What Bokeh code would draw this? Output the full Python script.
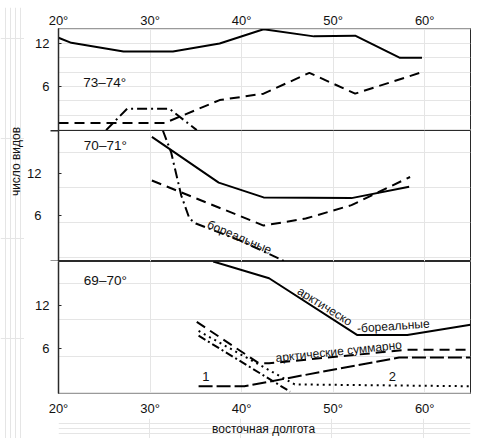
import math
from bokeh.plotting import figure
from bokeh.layouts import column, row
from bokeh.models import FixedTicker, Label, LinearAxis, Range1d
from bokeh.embed import file_html
from bokeh.resources import INLINE

# ---------------- data ----------------
lon_ticks = [20, 30, 40, 50, 60]
lon_labels = ["20°", "30°", "40°", "50°", "60°"]
count_ticks = [6, 12]

panel_names = ["73–74°", "70–71°", "69–70°"]

# panel 73–74°
top_ab_lon = [20.0, 21.4, 27.1, 32.5, 37.6, 42.4, 47.9, 52.4, 57.3, 59.7]
top_ab_val = [12.8, 12.1, 10.9, 10.9, 12.0, 14.0, 13.0, 13.1, 10.0, 10.0]
top_arc_lon = [20.0, 31.6, 37.6, 42.4, 47.4, 52.4, 59.7]
top_arc_val = [0.9, 0.9, 4.1, 5.0, 7.9, 5.0, 8.0]
top_bor_lon = [25.2, 27.5, 32.1, 35.1]
top_bor_val = [-0.1, 2.9, 2.9, -0.1]

# panel 70–71°
mid_ab_lon = [30.2, 37.5, 42.4, 52.0, 58.3]
mid_ab_val = [17.2, 10.7, 8.6, 8.5, 10.1]
mid_arc_lon = [30.2, 42.4, 47.0, 52.0, 58.4]
mid_arc_val = [11.0, 4.6, 5.6, 7.5, 11.5]
mid_bor_lon = [31.4, 32.3, 33.4, 34.3, 35.0, 39.8, 44.6]
mid_bor_val = [18.1, 15.0, 8.9, 5.6, 4.9, 2.5, -0.4]

# panel 69–70°
bot_ab_lon = [36.9, 43.0, 52.6, 58.1, 65.0]
bot_ab_val = [18.0, 15.7, 7.9, 7.9, 9.3]
bot_arc_lon = [35.1, 41.9, 43.0, 57.9, 65.0]
bot_arc_val = [9.7, 4.0, 4.0, 5.85, 5.85]
bot_arc1_lon = [35.3, 40.3, 57.2, 65.0]
bot_arc1_val = [0.85, 0.85, 4.8, 4.8]
bot_arc2_lon = [35.3, 45.8, 65.0]
bot_arc2_val = [8.45, 1.1, 0.85]
bot_bor_lon = [35.3, 45.3]
bot_bor_val = [7.8, 0.1]

# ---------------- styling ----------------
FONT = "Liberation Sans"
INK = "#111111"
FRAME = "#2a2a2a"
xr = Range1d(20, 65)
MAIN_W = 452


def blank(width, height, **kw):
    p = figure(width=width, height=height, x_range=Range1d(0, width),
               y_range=Range1d(0, height), output_backend="svg",
               toolbar_location=None, x_axis_location=None, y_axis_location=None, **kw)
    p.min_border = 0
    p.outline_line_color = None
    p.background_fill_color = "white"
    p.border_fill_color = "white"
    return p


def make_fig(height, y0, y1, top=0, bottom=0, minor=None):
    p = figure(width=MAIN_W, height=height, x_range=xr, y_range=Range1d(y0, y1),
               output_backend="svg", toolbar_location=None,
               x_axis_location=None, y_axis_location=None)
    p.min_border = 0
    p.min_border_left = 24
    p.min_border_right = 6
    p.min_border_top = top
    p.min_border_bottom = bottom
    p.outline_line_color = FRAME
    p.outline_line_width = 1
    p.background_fill_color = "white"
    p.border_fill_color = "white"
    ax = LinearAxis(ticker=FixedTicker(ticks=count_ticks, minor_ticks=minor or []))
    ax.axis_line_color = FRAME
    ax.axis_line_width = 1.5
    ax.major_tick_in = 3
    ax.major_tick_out = 0
    ax.major_tick_line_color = FRAME
    ax.major_tick_line_width = 1.2
    ax.minor_tick_in = 0
    ax.minor_tick_out = 8
    ax.minor_tick_line_color = FRAME if minor else None
    ax.minor_tick_line_width = 2
    ax.major_label_standoff = 9
    ax.major_label_text_font = FONT
    ax.major_label_text_font_size = "13px"
    ax.major_label_text_color = INK
    p.add_layout(ax, "left")
    return p


def lon_axis(standoff):
    ax = LinearAxis(ticker=FixedTicker(ticks=lon_ticks, minor_ticks=[]))
    ax.major_label_overrides = {t: s for t, s in zip(lon_ticks, lon_labels)}
    ax.axis_line_color = "#9a9a9a"
    ax.axis_line_width = 1
    ax.major_tick_line_color = None
    ax.minor_tick_line_color = None
    ax.major_tick_out = 0
    ax.major_tick_in = 0
    ax.major_label_standoff = standoff
    ax.major_label_text_font = FONT
    ax.major_label_text_font_size = "13px"
    ax.major_label_text_color = INK
    return ax


def txt(p, x, y, s, size="12px", angle=0.0, align="center"):
    p.add_layout(Label(x=x, y=y, text=s, angle=math.radians(angle),
                       text_align=align, text_baseline="middle",
                       text_font=FONT, text_font_size=size, text_color=INK))


LW = 2
DASH = "10 6"
DASHDOT = "10 4 2 4"

# ---- top panel ----
p1 = make_fig(123, -0.15, 14.1, top=21)
p1.add_layout(lon_axis(1), "above")
p1.line(top_ab_lon, top_ab_val, line_color="black", line_width=LW)
p1.line(top_arc_lon, top_arc_val, line_color="black", line_width=LW, line_dash=DASH)
p1.line(top_bor_lon, top_bor_val, line_color="black", line_width=LW, line_dash=DASHDOT)
txt(p1, 22.7, 6.6, panel_names[0], size="13.5px", align="left")

# ---- middle panel ----
p2 = make_fig(131, -0.5, 18.1, minor=[-0.47, 18.07])
p2.line(mid_ab_lon, mid_ab_val, line_color="black", line_width=LW)
p2.line(mid_arc_lon, mid_arc_val, line_color="black", line_width=LW, line_dash=DASH)
p2.line(mid_bor_lon, mid_bor_val, line_color="black", line_width=LW, line_dash=DASHDOT)
txt(p2, 22.77, 16.0, panel_names[1], size="13.5px", align="left")
txt(p2, 39.76, 2.95, "бореальные", angle=-23)

# ---- bottom panel ----
p3 = make_fig(157, -0.15, 18.0, bottom=24)
p3.add_layout(lon_axis(7), "below")
p3.line(bot_ab_lon, bot_ab_val, line_color="black", line_width=LW)
p3.line(bot_arc_lon, bot_arc_val, line_color="black", line_width=LW, line_dash=DASH)
p3.line(bot_arc1_lon, bot_arc1_val, line_color="black", line_width=LW, line_dash="14 4")
p3.line(bot_arc2_lon, bot_arc2_val, line_color="black", line_width=LW, line_dash="2 4")
p3.line(bot_bor_lon, bot_bor_val, line_color="black", line_width=LW, line_dash="8 3 2 3")
txt(p3, 22.77, 15.4, panel_names[2], size="13.5px", align="left")
txt(p3, 49.09, 11.83, "арктическо", angle=-32)
txt(p3, 56.57, 9.13, "-бореальные", angle=4)
txt(p3, 50.6, 5.65, "арктические суммарно", angle=6)
txt(p3, 36.1, 2.16, "1", size="13px")
txt(p3, 56.47, 2.16, "2", size="13px")

# ---- axis titles (in their own strips so they are not clipped) ----
xlab = blank(MAIN_W, 20)
txt(xlab, 225, 10, "восточная долгота")

col_h = 123 + 131 + 157 + 20
ylab = blank(24, col_h)
txt(ylab, 15, col_h - 154, "число видов", angle=90)

rule = blank(463, 2, margin=(5, 0, 0, 15))
rule.background_fill_color = "#8a8a8a"
rule.border_fill_color = "#8a8a8a"

layout = column(rule, row(ylab, column(p1, p2, p3, xlab, spacing=0), spacing=0), spacing=0)

open("out.html", "w").write(file_html(layout, INLINE))
